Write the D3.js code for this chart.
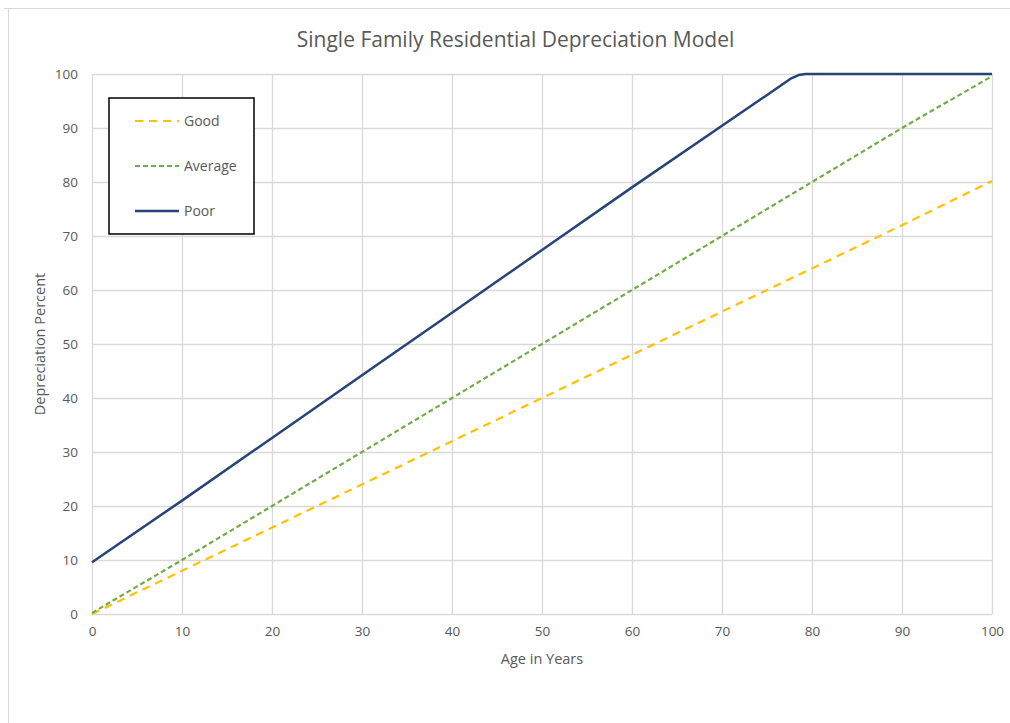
<!DOCTYPE html>
<html><head><meta charset="utf-8">
<script src="https://cdn.jsdelivr.net/npm/d3@7"></script>
<style>
html,body{margin:0;padding:0;background:#fff;}
svg{display:block;font-family:"Open Sans","Noto Sans",sans-serif;}
</style></head>
<body>
<svg id="chart" width="1010" height="723"></svg>
<script>
const title = "Single Family Residential Depreciation Model";
const xLabel = "Age in Years";
const yLabel = "Depreciation Percent";
const xTicks = [0,10,20,30,40,50,60,70,80,90,100];
const yTicks = [0,10,20,30,40,50,60,70,80,90,100];
const seriesNames = ["Good","Average","Poor"];
const goodAges = [0,10,20,30,40,50,60,70,80,90,100];
const goodValues = [0,8,16,24,32,40,48,56,64,72,80.2];
const averageAges = [0,10,20,30,40,50,60,70,80,90,100];
const averageValues = [0.2,10,20,30,40,50,60,70,80,90,99.6];
const poorAges = [0,10,20,30,40,50,60,70,77.7,78.5,79.3,80,90,100];
const poorValues = [9.6,21,32.6,44.2,55.8,67.4,79,90.4,99.2,99.8,100,100,100,100];

const svg = d3.select("#chart");
const W = 1010, H = 723;
const m = {left:92, right:18, top:74, bottom:109};
const x = d3.scaleLinear().domain([0,100]).range([m.left, W-m.right]);
const y = d3.scaleLinear().domain([0,100]).range([H-m.bottom, m.top]);

// outer frame (top and left visible)
svg.append("line").attr("x1",4).attr("x2",W).attr("y1",8.5).attr("y2",8.5).attr("stroke","#d9d9d9").attr("stroke-width",1);
svg.append("line").attr("x1",8.5).attr("x2",8.5).attr("y1",8).attr("y2",H).attr("stroke","#d9d9d9").attr("stroke-width",1);

// gridlines
svg.append("g").selectAll("line").data(yTicks).join("line")
  .attr("x1",x(0)).attr("x2",x(100)).attr("y1",d=>Math.round(y(d))+0.5).attr("y2",d=>Math.round(y(d))+0.5)
  .attr("stroke","#d9d9d9").attr("stroke-width",1.3);
svg.append("g").selectAll("line").data(xTicks).join("line")
  .attr("y1",y(0)).attr("y2",y(100)).attr("x1",d=>Math.round(x(d))+0.5).attr("x2",d=>Math.round(x(d))+0.5)
  .attr("stroke","#d9d9d9").attr("stroke-width",1.3);

// axes
const xAxis = d3.axisBottom(x).tickValues(xTicks).tickSize(0).tickPadding(12);
const yAxis = d3.axisLeft(y).tickValues(yTicks).tickSize(0).tickPadding(14);
const gx = svg.append("g").attr("transform",`translate(0,${y(0)})`).call(xAxis);
const gy = svg.append("g").attr("transform",`translate(${x(0)},0)`).call(yAxis);
[gx,gy].forEach(g=>{
  g.select(".domain").remove();
  g.selectAll("text").attr("fill","#595959").style("font-size","13.5px").style("font-family","'Open Sans',sans-serif");
});

// lines
const lineGen = d3.line().x(d=>x(d[0])).y(d=>y(d[1]));
const series = [
  {name:"Good", pts:d3.zip(goodAges,goodValues), color:"#ffc000", dash:"8,6", w:2.2},
  {name:"Average", pts:d3.zip(averageAges,averageValues), color:"#70ad47", dash:"5,3", w:2.2},
  {name:"Poor", pts:d3.zip(poorAges,poorValues), color:"#264478", dash:null, w:2.5}
];
series.forEach(s=>{
  svg.append("path").attr("d",lineGen(s.pts)).attr("fill","none")
    .attr("stroke",s.color).attr("stroke-width",s.w)
    .attr("stroke-dasharray",s.dash).attr("stroke-linejoin","round");
});

// title
svg.append("text").attr("x",515.5).attr("y",47).attr("text-anchor","middle")
  .attr("fill","#595959").style("font-size","21px").text(title);

// axis titles
svg.append("text").attr("x",x(50)).attr("y",664).attr("text-anchor","middle")
  .attr("fill","#595959").style("font-size","14.5px").text(xLabel);
svg.append("text").attr("transform",`translate(45,${y(50)}) rotate(-90)`).attr("text-anchor","middle")
  .attr("fill","#595959").style("font-size","14.5px").text(yLabel);

// legend
const lg = svg.append("g");
lg.append("rect").attr("x",109).attr("y",98).attr("width",145).attr("height",136)
  .attr("fill","#fff").attr("stroke","#000").attr("stroke-width",1.5);
const legY = [121,166,211];
series.forEach((s,i)=>{
  lg.append("line").attr("x1",135).attr("x2",179).attr("y1",legY[i]).attr("y2",legY[i])
    .attr("stroke",s.color).attr("stroke-width",s.w).attr("stroke-dasharray",s.dash);
  lg.append("text").attr("x",184).attr("y",legY[i]+5).attr("fill","#595959")
    .style("font-size","14px").text(seriesNames[i]);
});
</script>
</body></html>
